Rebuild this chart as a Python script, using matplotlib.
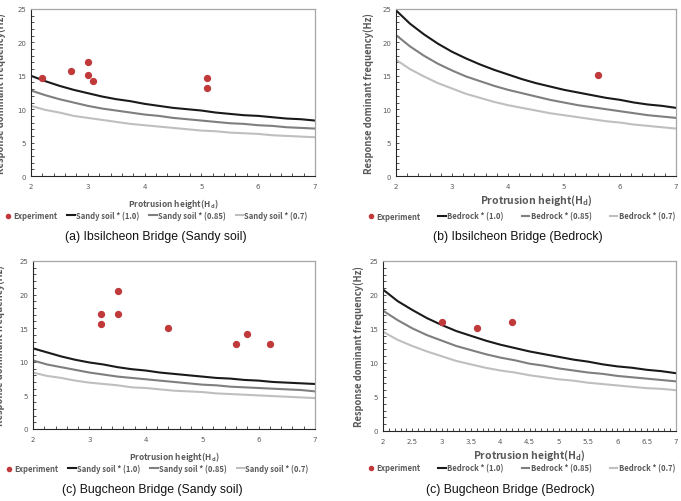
import matplotlib
matplotlib.use("Agg")
import matplotlib.pyplot as plt
from matplotlib import font_manager
from matplotlib.ticker import MultipleLocator, FormatStrFormatter

# Protrusion height grid used for the model curves
heights = [2.0, 2.25, 2.5, 2.75, 3.0, 3.25, 3.5, 3.75, 4.0, 4.25, 4.5,
           4.75, 5.0, 5.25, 5.5, 5.75, 6.0, 6.25, 6.5, 6.75, 7.0]

# (a) Ibsilcheon Bridge, sandy soil
a_exp_x = [2.2, 2.7, 3.0, 3.0, 3.1, 5.1, 5.1]
a_exp_y = [14.7, 15.7, 17.1, 15.1, 14.2, 14.7, 13.2]
a_100 = [15.0, 14.2, 13.5, 12.9, 12.4, 11.9, 11.5, 11.2, 10.8, 10.5, 10.2,
         10.0, 9.8, 9.5, 9.3, 9.1, 9.0, 8.8, 8.6, 8.5, 8.3]
a_085 = [12.8, 12.1, 11.5, 11.0, 10.5, 10.1, 9.8, 9.5, 9.2, 9.0, 8.7,
         8.5, 8.3, 8.1, 7.9, 7.8, 7.6, 7.5, 7.3, 7.2, 7.1]
a_070 = [10.5, 9.9, 9.5, 9.0, 8.7, 8.4, 8.1, 7.8, 7.6, 7.4, 7.2,
         7.0, 6.8, 6.7, 6.5, 6.4, 6.3, 6.1, 6.0, 5.9, 5.8]

# (b) Ibsilcheon Bridge, bedrock
b_exp_x = [5.6]
b_exp_y = [15.1]
b_100 = [24.8, 22.8, 21.2, 19.8, 18.6, 17.6, 16.7, 15.9, 15.2, 14.5, 13.9,
         13.4, 12.9, 12.5, 12.1, 11.7, 11.4, 11.0, 10.7, 10.5, 10.2]
b_085 = [21.1, 19.4, 18.0, 16.8, 15.8, 14.9, 14.2, 13.5, 12.9, 12.4, 11.9,
         11.4, 11.0, 10.6, 10.3, 10.0, 9.7, 9.4, 9.1, 8.9, 8.7]
b_070 = [17.4, 16.0, 14.9, 13.9, 13.1, 12.3, 11.7, 11.1, 10.6, 10.2, 9.8,
         9.4, 9.1, 8.8, 8.5, 8.2, 8.0, 7.7, 7.5, 7.3, 7.1]

# (c) Bugcheon Bridge, sandy soil
c_exp_x = [3.2, 3.2, 3.5, 3.5, 4.4, 5.6, 5.8, 6.2]
c_exp_y = [17.1, 15.6, 20.5, 17.1, 15.1, 12.7, 14.1, 12.7]
c_100 = [12.0, 11.4, 10.8, 10.3, 9.9, 9.6, 9.2, 8.9, 8.7, 8.4, 8.2,
         8.0, 7.8, 7.6, 7.5, 7.3, 7.2, 7.0, 6.9, 6.8, 6.7]
c_085 = [10.2, 9.6, 9.2, 8.8, 8.4, 8.1, 7.8, 7.6, 7.4, 7.2, 7.0,
         6.8, 6.6, 6.5, 6.3, 6.2, 6.1, 6.0, 5.9, 5.8, 5.6]
c_070 = [8.4, 7.9, 7.6, 7.2, 6.9, 6.7, 6.5, 6.2, 6.1, 5.9, 5.7,
         5.6, 5.5, 5.3, 5.2, 5.1, 5.0, 4.9, 4.8, 4.7, 4.6]

# (d) Bugcheon Bridge, bedrock
d_exp_x = [3.0, 3.6, 4.2]
d_exp_y = [16.1, 15.1, 16.1]
d_100 = [20.8, 19.1, 17.8, 16.6, 15.6, 14.7, 14.0, 13.3, 12.7, 12.2, 11.7,
         11.3, 10.9, 10.5, 10.2, 9.8, 9.5, 9.3, 9.0, 8.8, 8.5]
d_085 = [17.7, 16.3, 15.1, 14.1, 13.3, 12.5, 11.9, 11.3, 10.8, 10.4, 9.9,
         9.6, 9.2, 8.9, 8.6, 8.4, 8.1, 7.9, 7.7, 7.5, 7.3]
d_070 = [14.6, 13.4, 12.5, 11.7, 11.0, 10.3, 9.8, 9.3, 8.9, 8.6, 8.2,
         7.9, 7.6, 7.4, 7.1, 6.9, 6.7, 6.5, 6.3, 6.2, 6.0]

sandy_labels = ["Sandy soil * (1.0)", "Sandy soil * (0.85)", "Sandy soil * (0.7)"]
rock_labels = ["Bedrock * (1.0)", "Bedrock * (0.85)", "Bedrock * (0.7)"]

LINE_COLORS = ["#1a1a1a", "#7f7f7f", "#bfbfbf"]
DOT_COLOR = "#c0393b"
TEXT_GRAY = "#595959"
LABEL_FONT = ["Noto Sans CJK KR", "DejaVu Sans"]

installed = {f.name for f in font_manager.fontManager.ttflist}
if "Liberation Sans Narrow" in installed:
    CAPTION_FONT, CAPTION_SIZE = ["Liberation Sans Narrow", "DejaVu Sans"], 10
else:
    CAPTION_FONT, CAPTION_SIZE = ["Liberation Sans", "DejaVu Sans"], 8.8

plt.rcParams["mathtext.fontset"] = "custom"
plt.rcParams["mathtext.rm"] = "Noto Sans CJK KR"
plt.rcParams["mathtext.bf"] = "Noto Sans CJK KR:bold"

W, H = 681, 502


def px_axes(left, top, right, bottom):
    return [left / W, 1 - bottom / H, (right - left) / W, (bottom - top) / H]


def draw_panel(rect, exp_x, exp_y, curves, labels, caption, xminor, xlabel_size,
               xlabel_pad, ylabel_pad, legend_xy, caption_xy, colspace):
    ax = fig.add_axes(px_axes(*rect))
    ax.scatter(exp_x, exp_y, s=18, color=DOT_COLOR, zorder=3, label="Experiment")
    for vals, lab, col in zip(curves, labels, LINE_COLORS):
        ax.plot(heights, vals, color=col, lw=1.5, label=lab)

    ax.set_xlim(2, 7)
    ax.set_ylim(0, 25)
    ax.xaxis.set_major_locator(MultipleLocator(xminor * 5))
    ax.xaxis.set_minor_locator(MultipleLocator(xminor))
    ax.yaxis.set_major_locator(MultipleLocator(5))
    ax.yaxis.set_minor_locator(MultipleLocator(1))
    ax.xaxis.set_major_formatter(FormatStrFormatter("%g"))
    ax.tick_params(which="both", direction="in", colors="#333333",
                   labelcolor=TEXT_GRAY, labelsize=5, length=2, width=0.6)
    ax.tick_params(axis="x", which="major", pad=5)
    for side in ["top", "right"]:
        ax.spines[side].set_color("#a6a6a6")
        ax.spines[side].set_linewidth(0.9)
    for side in ["left", "bottom"]:
        ax.spines[side].set_color("#262626")
        ax.spines[side].set_linewidth(0.8)

    ax.set_xlabel(r"Protrusion height(H$_\mathbf{d}$)", fontsize=xlabel_size,
                  fontweight="bold", color=TEXT_GRAY, labelpad=xlabel_pad,
                  family=LABEL_FONT)
    ax.set_ylabel("Response dominant frequency(Hz)", fontsize=6.8,
                  fontweight="bold", color=TEXT_GRAY, labelpad=ylabel_pad,
                  family=LABEL_FONT)

    leg = fig.legend(*ax.get_legend_handles_labels(), loc="center",
                     bbox_to_anchor=(legend_xy[0] / W, 1 - legend_xy[1] / H),
                     ncol=4, frameon=False, handlelength=1.0,
                     handletextpad=0.15, columnspacing=colspace, markerscale=0.7,
                     prop={"family": LABEL_FONT, "weight": "bold", "size": 5.5})
    for t in leg.get_texts():
        t.set_color(TEXT_GRAY)
    fig.text(caption_xy[0] / W, 1 - caption_xy[1] / H, caption, ha="center",
             va="center", fontsize=CAPTION_SIZE, family=CAPTION_FONT, color="#111111")
    return ax


fig = plt.figure(figsize=(W / 100, H / 100), dpi=100)

draw_panel((31, 10, 315, 177), a_exp_x, a_exp_y, [a_100, a_085, a_070], sandy_labels,
           "(a) Ibsilcheon Bridge (Sandy soil)", 0.2, 6, 5, 8,
           (156, 216), (156, 237), 1.3)
draw_panel((396, 10, 676, 177), b_exp_x, b_exp_y, [b_100, b_085, b_070], rock_labels,
           "(b) Ibsilcheon Bridge (Bedrock)", 0.2, 7.5, 3, 6,
           (521, 217), (518, 237), 2.4)
draw_panel((33, 262, 315, 430), c_exp_x, c_exp_y, [c_100, c_085, c_070], sandy_labels,
           "(c) Bugcheon Bridge (Sandy soil)", 0.2, 6, 5, 10,
           (157, 469), (152, 490), 1.3)
draw_panel((383, 262, 676, 432), d_exp_x, d_exp_y, [d_100, d_085, d_070], rock_labels,
           "(c) Bugcheon Bridge (Bedrock)", 0.1, 7.5, 3, 4,
           (521, 469), (510, 490), 2.4)

fig.savefig("out.png", dpi=100)
